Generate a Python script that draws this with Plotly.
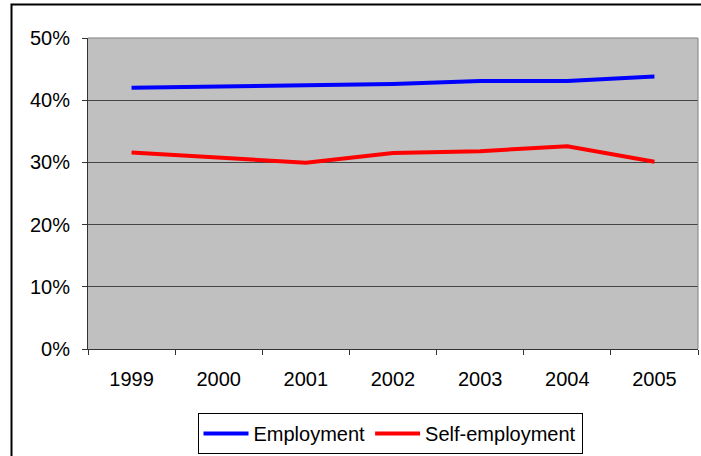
import plotly.graph_objects as go

years = ["1999", "2000", "2001", "2002", "2003", "2004", "2005"]
employment = [0.420, 0.422, 0.423, 0.426, 0.431, 0.431, 0.438]
self_employment = [0.316, 0.308, 0.2995, 0.315, 0.318, 0.326, 0.301]

W, H = 701, 456
L, R, T, B = 88, 3, 38, 107
pw, ph = W - L - R, H - T - B

def px_x(x):
    return (x - L) / pw

def px_y(y):
    return (H - B - y) / ph

font = dict(family="Liberation Sans, Arial, sans-serif", size=20, color="black")

fig = go.Figure()
fig.add_trace(go.Scatter(x=years, y=employment, mode="lines", name="Employment",
                         line=dict(color="#0000FF", width=4)))
fig.add_trace(go.Scatter(x=years, y=self_employment, mode="lines", name="Self-employment",
                         line=dict(color="#FF0000", width=4)))

fig.update_layout(
    width=W, height=H,
    margin=dict(l=L, r=R, t=T, b=B, pad=0, autoexpand=False),
    paper_bgcolor="white",
    plot_bgcolor="#C0C0C0",
    font=font,
    showlegend=True,
    legend=dict(orientation="h", xref="container", x=390 / W, xanchor="center",
                yref="container", y=1 - 413 / H, yanchor="top",
                bordercolor="black", borderwidth=1, bgcolor="white",
                font=font, itemwidth=45, tracegroupgap=0),
    xaxis=dict(type="category", tickson="boundaries", ticks="outside", ticklen=5,
               tickcolor="#333", showline=True, linecolor="#333", linewidth=1,
               showgrid=False, zeroline=False, ticklabelstandoff=12,
               range=[-0.5, 6.5], fixedrange=True, automargin=False),
    yaxis=dict(range=[0, 0.5], dtick=0.1, tickformat=".0%", ticks="outside", ticklen=5,
               tickcolor="#333", showline=True, linecolor="#333", linewidth=1,
               showgrid=True, gridcolor="#444", gridwidth=1, zeroline=False,
               ticklabelstandoff=8, fixedrange=True, automargin=False),
    shapes=[
        dict(type="line", xref="paper", yref="paper", x0=0, x1=1, y0=1, y1=1,
             line=dict(color="#808080", width=1)),
        dict(type="line", xref="paper", yref="paper", x0=1, x1=1, y0=0, y1=1,
             line=dict(color="#808080", width=1)),
        dict(type="rect", xref="paper", yref="paper",
             x0=px_x(11.5), x1=px_x(760), y0=px_y(500), y1=px_y(4.5),
             line=dict(color="black", width=2), layer="below"),
    ],
)

fig.write_html("out.html")
